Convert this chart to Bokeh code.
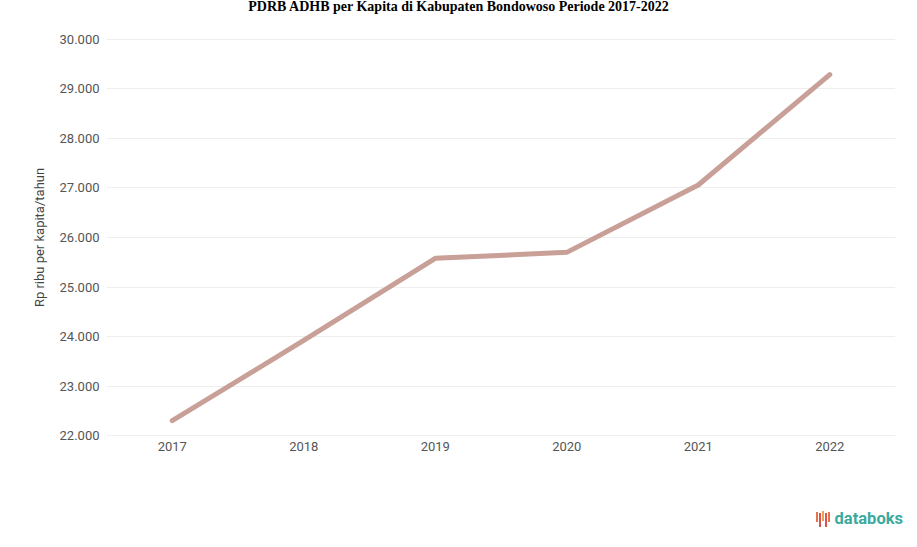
from bokeh.plotting import figure
from bokeh.models import Range1d, FixedTicker, Div
from bokeh.layouts import column
from bokeh.embed import file_html
from bokeh.resources import INLINE

title_text = "PDRB ADHB per Kapita di Kabupaten Bondowoso Periode 2017-2022"
years = ["2017", "2018", "2019", "2020", "2021", "2022"]
values = [22300, 23920, 25580, 25700, 27060, 29290]
y_ticks = [22000, 23000, 24000, 25000, 26000, 27000, 28000, 29000, 30000]
y_tick_labels = ["22.000", "23.000", "24.000", "25.000", "26.000", "27.000", "28.000", "29.000", "30.000"]

title = Div(text=(
    '<div style="width:901px;text-align:center;font-family:\'Liberation Serif\';font-weight:bold;'
    'font-size:14px;color:#000;line-height:16px;position:relative;top:-6px;padding-left:6px">'
    f'{title_text}</div>'),
    width=901, height=17)

p = figure(x_range=years, y_range=Range1d(21900, 30100), width=901, height=476,
           output_backend="svg", toolbar_location=None,
           min_border_left=106, min_border_right=6, min_border_top=7, min_border_bottom=63)

p.line(years, values, line_color="#c9a097", line_width=5, line_cap="round", line_join="round")

p.outline_line_color = None
p.background_fill_color = "white"
p.border_fill_color = "white"
p.xgrid.grid_line_color = None
p.ygrid.grid_line_color = "#eeeeee"
p.ygrid.grid_line_width = 1

p.yaxis.ticker = FixedTicker(ticks=y_ticks)
p.yaxis.major_label_overrides = {t: l for t, l in zip(y_ticks, y_tick_labels)}
for ax in (p.xaxis[0], p.yaxis[0]):
    ax.axis_line_color = None
    ax.major_tick_line_color = None
    ax.minor_tick_line_color = None
    ax.major_tick_out = 0
    ax.major_label_text_color = "#555555"
    ax.major_label_text_font = "Roboto"
    ax.major_label_text_font_size = "13px"
p.yaxis.major_label_standoff = 7
p.xaxis.major_label_standoff = 1
p.yaxis.axis_label = "Rp ribu per kapita/tahun"
p.yaxis.axis_label_text_font = "Roboto"
p.yaxis.axis_label_text_font_style = "normal"
p.yaxis.axis_label_text_font_size = "13px"
p.yaxis.axis_label_text_color = "#444444"
p.yaxis.axis_label_standoff = 10

bars = "".join(
    f'<span style="display:inline-block;width:2px;height:{h}px;background:{c};margin-right:1px;vertical-align:{v}px"></span>'
    for h, c, v in [(10, "#e8734a", 2), (14, "#d9534f", -3), (10, "#f0a050", 3), (14, "#d9534f", -3), (10, "#e8734a", 2)]
)
logo = Div(text=(
    '<div style="width:901px;text-align:right;font-family:Roboto;font-weight:bold;'
    'font-size:16.5px;color:#3aaaa0;line-height:20px;padding-top:1px">'
    f'{bars}<span style="margin-left:4px;margin-right:3px">databoks</span></div>'),
    width=901, height=36)

layout = column(title, p, logo, spacing=0)
open("out.html", "w").write(file_html(layout, INLINE))
